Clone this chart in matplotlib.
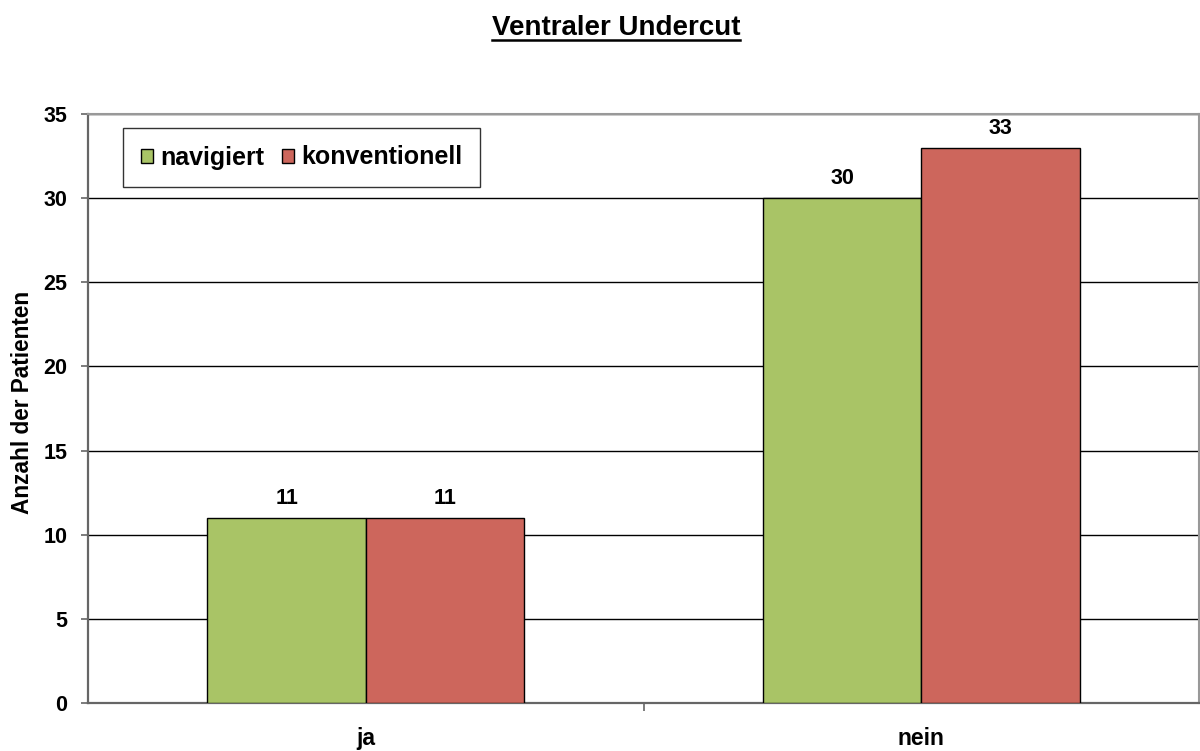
import matplotlib
matplotlib.use("Agg")
import matplotlib.pyplot as plt
from matplotlib.lines import Line2D
import numpy as np

plt.rcParams['font.family'] = ['Liberation Sans', 'DejaVu Sans']
plt.rcParams['font.weight'] = 'bold'

title = "Ventraler Undercut"
categories = ["ja", "nein"]
series_names = ["navigiert", "konventionell"]
navigiert = [11, 30]
konventionell = [11, 33]
colors = ["#A9C466", "#CD665C"]
ylabel = "Anzahl der Patienten"

fig = plt.figure(figsize=(12, 7.51), dpi=100)
ax = fig.add_axes([88/1200, 1 - 703/751, (1199-88)/1200, (703-114)/751])

x = np.arange(len(categories))
w = 0.285
b1 = ax.bar(x - w/2, navigiert, w, color=colors[0], edgecolor='black', linewidth=1.0, label=series_names[0], zorder=3)
b2 = ax.bar(x + w/2, konventionell, w, color=colors[1], edgecolor='black', linewidth=1.0, label=series_names[1], zorder=3)
for bars, vals in ((b1, navigiert), (b2, konventionell)):
    for r, v in zip(bars, vals):
        ax.annotate(str(v), (r.get_x() + r.get_width()/2, v), xytext=(0, 6.5),
                    textcoords='offset points', ha='center', va='bottom',
                    fontsize=15.5, fontweight='bold')

ax.set_xlim(-0.5, 1.5)
ax.set_ylim(0, 35)
ax.set_yticks(np.arange(0, 36, 5))
ax.yaxis.grid(True, color='black', linewidth=1.0, zorder=0)
ax.set_axisbelow(True)
ax.set_xticks([0.5])
ax.set_xticklabels([""])
ax.tick_params(axis='x', length=6, width=1.2, color='#666666', direction='out')
ax.tick_params(axis='y', length=5, width=1.2, color='#666666', direction='out', labelsize=15.5, pad=10)
for lab in ax.get_yticklabels():
    lab.set_fontweight('bold')
for i, c in enumerate(categories):
    ax.annotate(c, (i, 0), xycoords=('data', 'axes fraction'), xytext=(0, -17),
                textcoords='offset points', ha='center', va='top',
                fontsize=16.5, fontweight='bold')

for s in ['top', 'right']:
    ax.spines[s].set_color('#999999')
    ax.spines[s].set_linewidth(1.5)
for s in ['left', 'bottom']:
    ax.spines[s].set_color('#666666')
    ax.spines[s].set_linewidth(1.6)

ax.set_ylabel(ylabel, fontsize=16.3, fontweight='bold')
ax.yaxis.set_label_coords(-(88-34)/1111, (703-402)/589)

leg = ax.legend(loc='upper left', bbox_to_anchor=((123-88)/1111, 1-(128-114)/589), ncol=2,
                frameon=True, fancybox=False, edgecolor='black', handlelength=0.48,
                handleheight=0.48, handletextpad=0.3, columnspacing=0.7, borderpad=0.7,
                borderaxespad=0, prop={'weight': 'bold', 'size': 18})
leg.get_frame().set_linewidth(1.0)

t = fig.text(616/1200, 1 - 28/751, title, ha='center', va='center', fontsize=20, fontweight='bold')
fig.canvas.draw()
bb = t.get_window_extent()
y_line = 1 - 40/751
fig.add_artist(Line2D([bb.x0 / fig.bbox.width, bb.x1 / fig.bbox.width], [y_line, y_line],
                      transform=fig.transFigure, color='black', linewidth=1.8))

fig.savefig("out.png", dpi=100)
